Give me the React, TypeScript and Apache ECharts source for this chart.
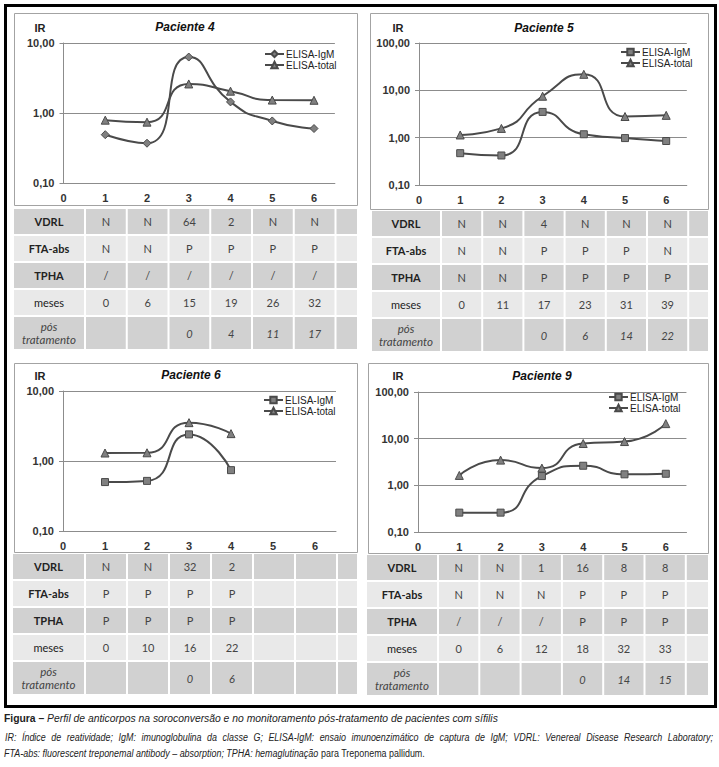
import React, { useEffect, useRef } from 'react';
import * as echarts from 'echarts';

// ---------- data ----------
const timePoints = [1, 2, 3, 4, 5, 6];
const xTickLabels = ['0', '1', '2', '3', '4', '5', '6'];
const seriesNames = ['ELISA-IgM', 'ELISA-total'];

const p4IgM = [0.49, 0.37, 6.3, 1.44, 0.77, 0.6];
const p4Total = [0.79, 0.74, 2.6, 2.05, 1.53, 1.52];
const p5IgM = [0.47, 0.42, 3.5, 1.18, 0.98, 0.85];
const p5Total = [1.14, 1.57, 7.5, 21.8, 2.8, 2.96];
const p6IgM = [0.5, 0.52, 2.4, 0.74];
const p6Total = [1.3, 1.31, 3.53, 2.46];
const p9IgM = [0.26, 0.26, 1.58, 2.63, 1.72, 1.77];
const p9Total = [1.63, 3.47, 2.34, 7.87, 8.67, 21.0];

const rowLabels = ['VDRL', 'FTA-abs', 'TPHA', 'meses', 'pós\ntratamento'];

const p4Vdrl = ['N', 'N', '64', '2', 'N', 'N'];
const p4Fta = ['N', 'N', 'P', 'P', 'P', 'P'];
const p4Tpha = ['/', '/', '/', '/', '/', '/'];
const p4Meses = ['0', '6', '15', '19', '26', '32'];
const p4Pos = ['', '', '0', '4', '11', '17'];

const p5Vdrl = ['N', 'N', '4', 'N', 'N', 'N'];
const p5Fta = ['N', 'N', 'P', 'P', 'P', 'N'];
const p5Tpha = ['N', 'N', 'P', 'P', 'P', 'P'];
const p5Meses = ['0', '11', '17', '23', '31', '39'];
const p5Pos = ['', '', '0', '6', '14', '22'];

const p6Vdrl = ['N', 'N', '32', '2', '', ''];
const p6Fta = ['P', 'P', 'P', 'P', '', ''];
const p6Tpha = ['P', 'P', 'P', 'P', '', ''];
const p6Meses = ['0', '10', '16', '22', '', ''];
const p6Pos = ['', '', '0', '6', '', ''];

const p9Vdrl = ['N', 'N', '1', '16', '8', '8'];
const p9Fta = ['N', 'N', 'N', 'P', 'P', 'P'];
const p9Tpha = ['/', '/', '/', 'P', 'P', 'P'];
const p9Meses = ['0', '6', '12', '18', '32', '33'];
const p9Pos = ['', '', '', '0', '14', '15'];

const captionTitle = 'Figura –';
const captionText = 'Perfil de anticorpos na soroconversão e no monitoramento pós-tratamento de pacientes com sífilis';
const captionLine2 = 'IR: Índice de reatividade; IgM: imunoglobulina da classe G; ELISA-IgM: ensaio imunoenzimático de captura de IgM; VDRL: Venereal Disease Research Laboratory;';
const captionLine3a = 'FTA-abs: fluorescent treponemal antibody – absorption; TPHA: hemaglutinação ';
const captionLine3b = 'para Treponema pallidum.';

// ---------- styles / layout ----------
const FONT_ARIAL = "'Liberation Sans', Arial, sans-serif";
const FONT_TABLE = "Lato, 'Open Sans', sans-serif";
const LINE_COLOR = '#4a4a4a';
const MARK_COLOR = '#808080';
const GRID_COLOR = '#8c8c8c';
const DARK = '#d1d1d1';
const LIGHT = '#e9e9e9';

const panels = [
  {
    key: '4', title: 'Paciente 4', igm: p4IgM, total: p4Total, igmSymbol: 'diamond', yMax: 10,
    box: { x: 14, y: 13, w: 343, h: 192 },
    grid: { left: 63.5, top: 43, unit: 41.75, height: 140 },
    titleX: 185, titleY: 27, irX: 40, irY: 28, legend: { left: 264, top: 49 },
    table: { x: 14, firstCol: 86, right: 357, top: 209, rows: [p4Vdrl, p4Fta, p4Tpha, p4Meses, p4Pos] },
  },
  {
    key: '5', title: 'Paciente 5', igm: p5IgM, total: p5Total, igmSymbol: 'rect', yMax: 100,
    box: { x: 370, y: 13, w: 338, h: 196 },
    grid: { left: 419, top: 43, unit: 41.2, height: 142 },
    titleX: 544, titleY: 28, irX: 398, irY: 28, legend: { left: 620, top: 47 },
    table: { x: 372, firstCol: 442, right: 708, top: 211, rows: [p5Vdrl, p5Fta, p5Tpha, p5Meses, p5Pos] },
  },
  {
    key: '6', title: 'Paciente 6', igm: p6IgM, total: p6Total, igmSymbol: 'rect', yMax: 10,
    box: { x: 14, y: 363, w: 343, h: 189 },
    grid: { left: 63, top: 391, unit: 42, height: 140 },
    titleX: 191, titleY: 375, irX: 40, irY: 376, legend: { left: 263, top: 395 },
    table: { x: 13, firstCol: 86, right: 357, top: 554, rows: [p6Vdrl, p6Fta, p6Tpha, p6Meses, p6Pos] },
  },
  {
    key: '9', title: 'Paciente 9', igm: p9IgM, total: p9Total, igmSymbol: 'rect', yMax: 100,
    box: { x: 368, y: 363, w: 340, h: 190 },
    grid: { left: 418, top: 392, unit: 41.3, height: 140 },
    titleX: 542, titleY: 376, irX: 398, irY: 376, legend: { left: 608, top: 392 },
    table: { x: 367, firstCol: 439, right: 708, top: 555, rows: [p9Vdrl, p9Fta, p9Tpha, p9Meses, p9Pos] },
  },
];

const ROW_H = [27, 27, 27, 27, 34];

function textEl(x: number, y: number, text: string, s: any) {
  return {
    type: 'text', x, y, silent: true, scaleX: s.scaleX || 1,
    style: {
      text, fill: s.fill || '#333', fontSize: s.fontSize || 11, fontFamily: s.fontFamily || FONT_TABLE,
      fontWeight: s.fontWeight || 'normal', fontStyle: s.fontStyle || 'normal',
      align: s.align || 'center', verticalAlign: s.verticalAlign || 'middle',
      textAlign: s.align || 'center', textVerticalAlign: s.verticalAlign || 'middle',
      lineHeight: s.lineHeight, rich: s.rich,
    },
  };
}

function tableElements(p: any) {
  const els: any[] = [];
  const t = p.table;
  const unit = p.grid.unit;
  let y = t.top;
  rowLabels.forEach((label, r) => {
    const h = ROW_H[r];
    const fill = r % 2 === 0 ? DARK : LIGHT;
    els.push({ type: 'rect', silent: true, shape: { x: t.x, y, width: t.firstCol - t.x - 2, height: h - 2 }, style: { fill } });
    const labelStyle: any = { fill: '#222', fontSize: 11 };
    if (r <= 2) labelStyle.fontWeight = 'bold';
    if (r === 4) { labelStyle.fontStyle = 'italic'; labelStyle.lineHeight = 13; labelStyle.fill = '#444'; labelStyle.fontSize = 11.5; }
    els.push(textEl((t.x + t.firstCol) / 2 - 1, y + (h - 2) / 2, label, labelStyle));
    const vals = t.rows[r];
    for (let c = 0; c < 6; c++) {
      const cx = t.firstCol + c * unit;
      els.push({ type: 'rect', silent: true, shape: { x: cx, y, width: unit - 2, height: h - 2 }, style: { fill } });
      if (vals[c]) {
        els.push(textEl(cx + (unit - 2) / 2, y + (h - 2) / 2, vals[c], {
          fill: '#444', fontSize: 11, fontStyle: r === 4 ? 'italic' : 'normal',
        }));
      }
    }
    const lastX = t.firstCol + 6 * unit;
    els.push({ type: 'rect', silent: true, shape: { x: lastX, y, width: t.right - lastX, height: h - 2 }, style: { fill } });
    y += h;
  });
  return els;
}

let measureCtx: CanvasRenderingContext2D | null = null;
function measure(text: string, font: string): number {
  try {
    if (!measureCtx) measureCtx = document.createElement('canvas').getContext('2d');
    if (!measureCtx) return text.length * 5.5;
    measureCtx.font = font;
    return measureCtx.measureText(text).width;
  } catch (e) {
    return text.length * 5.5;
  }
}

function captionElements() {
  const els: any[] = [];
  const fI = `italic 11px ${FONT_ARIAL}`;
  const fB = `bold 11px ${FONT_ARIAL}`;
  const fN = `11px ${FONT_ARIAL}`;
  // line 1 fitted to its width in the figure
  const w1 = measure(captionTitle, fB) + measure(' ' + captionText, fI);
  const s1 = w1 > 0 ? 494 / w1 : 0.9;
  els.push(textEl(4, 718, `{b|${captionTitle}}{i| ${captionText}}`, {
    align: 'left', fontFamily: FONT_ARIAL, fontSize: 11, fill: '#222', scaleX: s1,
    rich: {
      b: { fontFamily: FONT_ARIAL, fontSize: 11, fontWeight: 'bold', fill: '#222' },
      i: { fontFamily: FONT_ARIAL, fontSize: 11, fontStyle: 'italic', fill: '#222' },
    },
  }));
  // line 3 fitted
  const w3 = measure(captionLine3a, fI) + measure(captionLine3b, fN);
  const s3 = w3 > 0 ? 421 / w3 : 0.85;
  els.push(textEl(4, 753, `{i|${captionLine3a}}{n|${captionLine3b}}`, {
    align: 'left', fontFamily: FONT_ARIAL, fontSize: 11, fill: '#222', scaleX: s3,
    rich: {
      i: { fontFamily: FONT_ARIAL, fontSize: 11, fontStyle: 'italic', fill: '#222' },
      n: { fontFamily: FONT_ARIAL, fontSize: 11, fontStyle: 'normal', fill: '#222' },
    },
  }));
  // line 2 justified across the full width
  const words = captionLine2.split(' ');
  const ww = words.map((w) => measure(w, fI) * s3);
  const total = ww.reduce((a, b) => a + b, 0);
  const gap = (713 - 5 - total) / (words.length - 1);
  let x = 5;
  words.forEach((w, k) => {
    els.push(textEl(x, 737, w, {
      align: 'left', fontFamily: FONT_ARIAL, fontSize: 11, fontStyle: 'italic', fill: '#222', scaleX: s3,
    }));
    x += ww[k] + gap;
  });
  return els;
}

function buildOption() {
  const grids = panels.map((p) => ({
    left: p.grid.left, top: p.grid.top, width: p.grid.unit * 6.5, height: p.grid.height, containLabel: false,
  }));
  const xAxes = panels.map((p, i) => ({
    type: 'value', gridIndex: i, min: 0, max: 6.5, interval: 1,
    axisLine: { show: true, lineStyle: { color: GRID_COLOR, width: 1 } },
    axisTick: { show: false },
    splitLine: { show: false },
    axisLabel: {
      margin: 9, fontFamily: FONT_ARIAL, fontSize: 11, fontWeight: 'bold', color: '#333',
      formatter: (v: number) => (Number.isInteger(v) ? xTickLabels[v] : ''),
    },
  }));
  const yAxes = panels.map((p, i) => ({
    type: 'log', logBase: 10, gridIndex: i, min: 0.1, max: p.yMax,
    axisLine: { show: true, lineStyle: { color: GRID_COLOR, width: 1 } },
    axisTick: { show: true, length: 4, lineStyle: { color: GRID_COLOR } },
    splitLine: { show: true, lineStyle: { color: GRID_COLOR, width: 1 } },
    axisLabel: {
      margin: 9, fontFamily: FONT_ARIAL, fontSize: 11, fontWeight: 'bold', color: '#333',
      formatter: (v: number) => Number(v).toFixed(2).replace('.', ','),
    },
  }));
  const series: any[] = [];
  panels.forEach((p, i) => {
    series.push({
      type: 'line', name: `${seriesNames[0]}|${p.key}`, xAxisIndex: i, yAxisIndex: i, smooth: 0.6,
      data: p.igm.map((v, k) => [timePoints[k], v]),
      symbol: p.igmSymbol, symbolSize: p.igmSymbol === 'diamond' ? 8 : 7,
      lineStyle: { color: LINE_COLOR, width: 2 },
      itemStyle: { color: MARK_COLOR, borderColor: LINE_COLOR, borderWidth: 1 },
      emphasis: { disabled: true },
    });
    series.push({
      type: 'line', name: `${seriesNames[1]}|${p.key}`, xAxisIndex: i, yAxisIndex: i, smooth: 0.6,
      data: p.total.map((v, k) => [timePoints[k], v]),
      symbol: 'triangle', symbolSize: 8,
      lineStyle: { color: LINE_COLOR, width: 2 },
      itemStyle: { color: MARK_COLOR, borderColor: LINE_COLOR, borderWidth: 1 },
      emphasis: { disabled: true },
    });
  });
  const legends = panels.map((p) => ({
    orient: 'vertical', left: p.legend.left, top: p.legend.top, padding: 0,
    itemWidth: 19, itemHeight: 8, itemGap: 1, selectedMode: false,
    data: seriesNames.map((n) => `${n}|${p.key}`),
    formatter: (name: string) => name.split('|')[0],
    textStyle: { fontFamily: FONT_ARIAL, fontSize: 10, color: '#222', padding: [0, 0, 0, -3] },
  }));

  const elements: any[] = [];
  elements.push({
    type: 'rect', silent: true, shape: { x: 5.5, y: 5.5, width: 710, height: 701 },
    style: { fill: 'none', stroke: '#000', lineWidth: 3 },
  });
  panels.forEach((p) => {
    elements.push({
      type: 'rect', silent: true, shape: { x: p.box.x + 0.5, y: p.box.y + 0.5, width: p.box.w, height: p.box.h },
      style: { fill: 'none', stroke: '#a3a3a3', lineWidth: 1 },
    });
    elements.push(textEl(p.titleX, p.titleY, p.title, { fontFamily: FONT_ARIAL, fontSize: 12, fontWeight: 'bold', fontStyle: 'italic', fill: '#111' }));
    elements.push(textEl(p.irX, p.irY, 'IR', { fontFamily: FONT_ARIAL, fontSize: 11, fontWeight: 'bold', fill: '#222' }));
    elements.push(...tableElements(p));
  });
  elements.push(...captionElements());

  return {
    animation: false,
    backgroundColor: '#ffffff',
    grid: grids,
    xAxis: xAxes,
    yAxis: yAxes,
    legend: legends,
    series,
    graphic: { elements },
  };
}

export default function App() {
  const ref = useRef<HTMLDivElement>(null);
  useEffect(() => {
    const chart = echarts.init(ref.current as HTMLDivElement, null, { renderer: 'svg' });
    chart.setOption(buildOption() as any);
    return () => chart.dispose();
  }, []);
  return (
    <div
      ref={ref}
      style={{ position: 'absolute', left: 0, top: 0, width: 719, height: 767, background: '#fff' }}
    />
  );
}
